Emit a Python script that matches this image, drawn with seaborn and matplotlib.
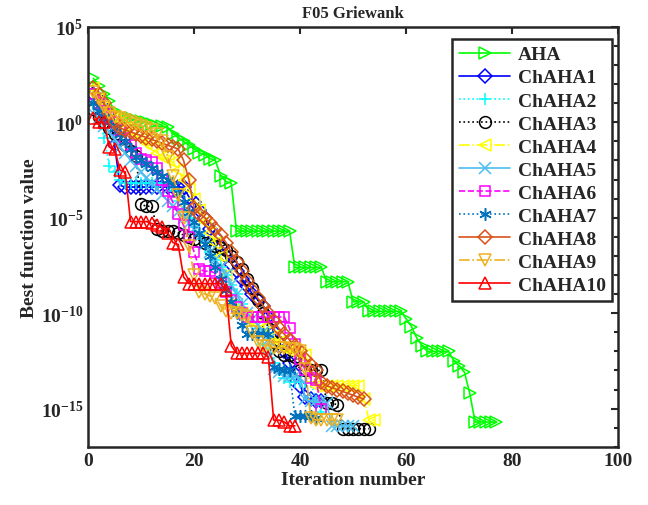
import matplotlib
matplotlib.use("Agg")
import matplotlib.pyplot as plt
import matplotlib.ticker as mticker
import numpy as np
import seaborn as sns

# best function value per iteration, stored as log10
aha_log = [2.3, 1.9, 1.5, 1.1, 0.6, 0.4, 0.3, 0.2, 0.1, 0.05,
           0.0, -0.1, -0.2, -0.2, -0.25, -0.6, -0.8, -1.0, -1.2, -1.4,
           -1.6, -1.7, -1.9, -2.0, -2.8, -3.1, -3.2, -5.7, -5.7, -5.7,
           -5.7, -5.7, -5.7, -5.7, -5.7, -5.7, -5.7, -5.7, -7.6, -7.6,
           -7.6, -7.6, -7.6, -7.6, -8.35, -8.35, -8.35, -8.35, -8.35, -9.4,
           -9.4, -9.4, -9.9, -9.9, -9.9, -9.9, -9.9, -9.9, -9.9, -10.3,
           -10.7, -11.3, -11.7, -12.0, -12.0, -12.0, -12.0, -12.0, -12.5, -12.75,
           -13.1, -14.2, -15.7, -15.7, -15.7, -15.7, -15.7]
chaha1_log = [1.5, 1.2, 0.8, 0.4, -1.2, -3.3, -3.4, -3.4, -3.4, -3.4,
              -3.4, -3.4, -3.4, -3.4, -3.4, -3.4, -3.4, -3.4, -3.9, -4.2,
              -4.6, -5.0, -5.6, -6.0, -6.5, -7.0, -7.4, -7.8, -8.2, -8.6,
              -9.0, -9.3, -9.6, -10.2, -11.0, -11.5, -12.0, -12.6, -13.2, -13.8,
              -14.4, -14.5, -14.6, -14.6]
chaha2_log = [1.0, 0.3, -0.8, -2.3, -2.6, -3.0, -3.2, -3.2, -3.2, -3.2,
              -3.2, -3.2, -3.2, -3.2, -3.2, -3.6, -4.1, -4.6, -5.0, -5.5,
              -5.9, -6.3, -6.8, -7.2, -7.6, -8.0, -8.5, -9.0, -9.5, -10.0,
              -10.5, -11.0, -11.6, -12.1, -12.6, -13.0, -13.4, -13.6, -13.6, -13.6,
              -13.6, -13.6, -14.6, -15.2]
chaha3_log = [0.7, 0.3, 0.0, -0.3, -0.6, -0.9, -1.2, -1.5, -1.75, -4.3,
              -4.4, -4.4, -5.6, -5.7, -5.7, -5.7, -5.8, -5.9, -6.0, -6.1,
              -6.2, -6.3, -6.4, -6.5, -6.6, -6.7, -7.0, -7.3, -7.7, -8.2,
              -8.7, -9.3, -10.0, -10.8, -11.5, -12.0, -12.2, -12.2, -12.3, -13.0,
              -13.0, -13.0, -13.0, -13.0, -14.7, -14.7, -14.8, -16.05, -16.05, -16.05,
              -16.05, -16.05, -16.05]
chaha4_log = [1.8, 1.2, 0.8, 0.4, 0.2, 0.0, -0.3, -0.5, -0.7, -0.9,
              -1.1, -1.3, -1.6, -1.8, -2.0, -2.1, -2.5, -3.0, -3.5, -4.0,
              -4.6, -5.2, -5.8, -6.3, -7.0, -8.0, -9.5, -9.8, -10.0, -10.2,
              -10.4, -10.6, -10.8, -11.0, -11.2, -11.5, -11.8, -12.0, -12.0, -12.1,
              -12.2, -13.5, -13.8, -13.8, -13.8, -13.8, -13.8, -13.8, -13.8, -13.8,
              -13.8, -14.5, -15.6, -15.6]
chaha5_log = [0.5, 0.2, -0.2, -0.5, -0.9, -1.3, -1.6, -2.0, -2.3, -2.6,
              -2.9, -3.2, -3.5, -3.8, -4.1, -4.4, -4.7, -5.0, -5.3, -5.6,
              -6.0, -6.4, -6.8, -7.2, -7.6, -8.0, -8.5, -9.0, -9.5, -10.0,
              -10.3, -10.6, -11.0, -11.4, -12.9, -13.1, -13.3, -13.3, -13.3, -13.4,
              -14.5, -14.6, -14.6, -14.6, -14.7, -15.9, -15.9, -15.9, -15.9, -15.9]
chaha6_log = [1.5, 1.0, 0.6, 0.3, 0.0, -0.4, -0.8, -1.2, -1.6, -1.9,
              -2.0, -2.1, -2.4, -3.0, -3.6, -4.2, -4.8, -5.4, -6.0, -6.8,
              -7.7, -7.8, -7.8, -7.9, -8.4, -8.9, -9.3, -9.7, -10.0, -10.2,
              -10.2, -10.2, -10.2, -10.2, -10.2, -10.2, -10.2, -10.8, -11.6, -12.4,
              -13.0, -13.4, -13.5, -15.0]
chaha7_log = [1.0, 0.6, 0.3, 0.0, -0.3, -0.6, -1.0, -1.4, -1.8, -2.0,
              -2.2, -2.4, -2.6, -2.8, -3.0, -3.3, -3.7, -4.2, -4.7, -5.2,
              -5.8, -6.4, -7.0, -7.6, -8.2, -8.8, -9.4, -10.0, -10.6, -11.1,
              -11.1, -11.1, -11.1, -11.1, -12.8, -12.9, -13.0, -13.0, -15.4, -15.4,
              -15.4, -15.4, -15.5]
chaha8_log = [1.8, 1.5, 1.0, 0.5, 0.0, -0.3, -0.4, -0.5, -0.6, -0.7,
              -0.8, -0.9, -1.0, -1.1, -1.2, -1.3, -1.4, -2.0, -3.0, -4.5,
              -4.8, -5.0, -5.3, -5.6, -5.9, -6.3, -6.8, -7.3, -7.8, -8.3,
              -8.8, -9.2, -9.6, -10.0, -10.4, -10.8, -11.1, -11.4, -11.7, -12.0,
              -12.4, -12.7, -13.0, -13.6, -13.8, -13.9, -14.0, -14.1, -14.2, -14.3,
              -14.4, -14.5]
chaha9_log = [1.6, 1.2, 0.8, 0.5, 0.3, 0.2, 0.1, 0.0, -0.1, -0.2,
              -0.3, -0.4, -0.6, -1.0, -1.8, -2.8, -3.8, -5.0, -6.5, -8.0,
              -8.9, -9.0, -9.1, -9.2, -9.6, -9.9, -10.0, -10.0, -10.1, -10.2,
              -11.0, -11.5, -11.7, -11.7, -11.8, -11.8, -11.8, -11.9, -11.9, -12.0,
              -12.9, -15.5, -15.6, -15.6, -15.6, -15.6, -15.6]
chaha10_log = [0.2, 0.0, 0.0, -1.3, -1.4, -2.5, -2.6, -5.2, -5.2, -5.2,
               -5.2, -5.3, -5.4, -5.5, -5.8, -6.3, -6.4, -8.1, -8.45, -8.45,
               -8.45, -8.45, -8.45, -8.45, -8.45, -8.8, -11.7, -12.1, -12.1, -12.1,
               -12.1, -12.1, -12.1, -12.3, -15.6, -15.6, -15.7, -15.9, -15.9]

names = ["AHA", "ChAHA1", "ChAHA2", "ChAHA3", "ChAHA4", "ChAHA5",
         "ChAHA6", "ChAHA7", "ChAHA8", "ChAHA9", "ChAHA10"]
series = [aha_log, chaha1_log, chaha2_log, chaha3_log, chaha4_log, chaha5_log,
          chaha6_log, chaha7_log, chaha8_log, chaha9_log, chaha10_log]
colors = ["#00FF00", "#0000FF", "#00FFFF", "#000000", "#FFFF00", "#4DBEEE",
          "#FF00FF", "#0072BD", "#D95319", "#EDB120", "#FF0000"]
# (6, 2, 0) is the line asterisk, like MATLAB's '*'
markers = [">", "D", "+", "o", "<", "x", "s", (6, 2, 0), "D", "v", "^"]
msizes = [9, 7, 9, 8.5, 9, 8, 7.5, 9, 7, 9, 9]
styles = ["-", "-", ":", ":", "-.", "-", "--", ":", "-", "-.", "-"]

ytick_vals = [1e-15, 1e-10, 1e-5, 1e0, 1e5]
ytick_labels = ["$10^{-15}$", "$10^{-10}$", "$10^{-5}$", "$10^{0}$", "$10^{5}$"]
xtick_vals = [0, 20, 40, 60, 80, 100]

sns.set_style("white")
plt.rcParams["font.family"] = ["Liberation Serif", "DejaVu Serif"]
plt.rcParams["font.weight"] = "bold"
plt.rcParams["mathtext.fontset"] = "custom"
plt.rcParams["mathtext.rm"] = "Liberation Serif:bold"
plt.rcParams["mathtext.it"] = "Liberation Serif:bold:italic"
plt.rcParams["mathtext.bf"] = "Liberation Serif:bold"

fig, ax = plt.subplots(figsize=(6.48, 5.06), dpi=100)
fig.subplots_adjust(left=0.136, right=0.954, top=0.945, bottom=0.115)

for name, vals, c, m, ms, ls in zip(names, series, colors, markers, msizes, styles):
  it = np.arange(1, len(vals) + 1)
  sns.lineplot(x=it, y=np.power(10.0, vals), ax=ax, color=c, marker=m,
               linestyle=ls, linewidth=1.2, markersize=ms,
               markerfacecolor="none", markeredgecolor=c,
               markeredgewidth=1.1, label=name, legend=False)

ax.set_yscale("log")
ax.set_xlim(0, 100)
ax.set_ylim(1e-17, 1e5)
ax.set_xticks(xtick_vals)
ax.set_yticks(ytick_vals)
ax.set_yticklabels(ytick_labels)
ax.yaxis.set_minor_locator(mticker.LogLocator(base=10, subs=(1.0,), numticks=40))
ax.yaxis.set_minor_formatter(mticker.NullFormatter())

ax.tick_params(which="both", direction="in", top=True, right=True,
               labelsize=14, width=1.5)
ax.tick_params(which="major", length=5)
ax.tick_params(which="minor", length=3)
for sp in ax.spines.values():
  sp.set_linewidth(1.8)
  sp.set_color("#262626")

ax.set_title("F05 Griewank", fontsize=12, fontweight="bold", pad=7)
ax.set_xlabel("Iteration number", fontsize=14, fontweight="bold", labelpad=2)
ax.set_ylabel("Best function value", fontsize=14, fontweight="bold", labelpad=2)

leg = ax.legend(loc="upper right", bbox_to_anchor=(0.989, 0.971),
                borderaxespad=0, fancybox=False, framealpha=1,
                edgecolor="#262626", fontsize=14, labelspacing=0.28,
                handlelength=2.6, handletextpad=0.4, borderpad=0.35)
leg.get_frame().set_linewidth(1.8)

fig.savefig("out.png", dpi=100)
